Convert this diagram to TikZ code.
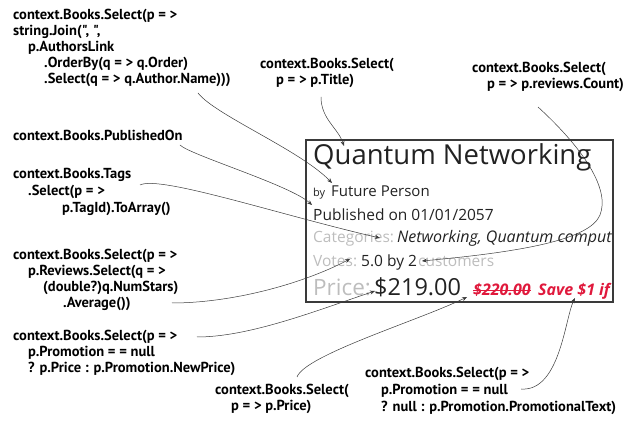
\documentclass[tikz,border=0pt]{standalone}
\usepackage{fontspec}
\usetikzlibrary{arrows.meta}
\setmainfont{Open Sans}
\newfontfamily\codefont{PT Sans}
\setlength{\lineskiplimit}{-20pt}
\definecolor{ink}{HTML}{222222}
\definecolor{dimgrey}{HTML}{BDBDBD}
\definecolor{salered}{HTML}{E0193C}
\definecolor{wire}{HTML}{3A3A3A}

\begin{document}
\begin{tikzpicture}[x=1pt, y=-1pt, >={Stealth[length=5pt, width=4pt]},
  anno/.style={anchor=base west, inner sep=0pt, align=left, font=\codefont\bfseries\fontsize{14.5}{16}\selectfont},
  anno wide/.style={anno, font=\codefont\bfseries\fontsize{14.5}{17}\selectfont},
  txt/.style={anchor=base west, inner sep=0pt, text=ink, font=\fontsize{15.5}{18}\selectfont},
  dim/.style={txt, text=dimgrey},
  sale/.style={txt, text=salered, font=\bfseries\itshape\fontsize{16}{18}\selectfont},
  link/.style={->, draw=wire, line width=0.5pt}]
\useasboundingbox (0,0) rectangle (643,430);
% the rendered book card
\begin{scope}
\clip (306,140) rectangle (613,302);
\node[txt, font=\fontsize{27.5}{30}\selectfont] (title) at (313,165) {Quantum Networking};
\node[txt, font=\fontsize{11}{13}\selectfont] (by) at (313,197) {by};
\node[txt, font=\fontsize{15}{18}\selectfont] (name) at (331,197) {Future Person};
\node[txt] (pub) at (313,221) {Published on 01/01/2057};
\node[dim] (catlbl) at (313,243) {Categories:};
\node[txt, font=\itshape\fontsize{16}{18}\selectfont] (cats) at (397,243) {Networking, Quantum computing};
\node[dim] (votelbl) at (313,267) {Votes:};
\node[txt] (votes) at (361,267) {5.0 by 2};
\node[dim] (cust) at (418,267) {customers};
\node[dim, font=\fontsize{22.5}{26}\selectfont] (pricelbl) at (313,296) {Price:};
\node[txt, font=\fontsize{23.5}{26}\selectfont] (price) at (374,296) {\$219.00};
\node[sale] (oldprice) at (473,296) {\$220.00};
\node[sale] (save) at (538,296) {Save \$1 if};
\draw[salered, line width=1.8pt] ([shift={(0,-5.5)}]oldprice.base west) -- ([shift={(0,-5.5)}]oldprice.base east);
\end{scope}
\draw[draw=wire, line width=1.2pt] (306,140) rectangle (613,302);
% the LINQ snippets
\node[anno] (authors) at (13,84) {context.Books.Select(p = >\\string.Join(", ",\\\hspace*{15pt}p.AuthorsLink\\\hspace*{31pt}.OrderBy(q = > q.Order)\\\hspace*{31pt}.Select(q = > q.Author.Name)))};
\node[anno] (titlesel) at (260,85) {context.Books.Select(\\\hspace*{16pt}p = > p.Title)};
\node[anno] (revcount) at (472,89) {context.Books.Select(\\\hspace*{15pt}p = > p.reviews.Count)};
\node[anno] (pubon) at (13,141) {context.Books.PublishedOn};
\node[anno wide] (tags) at (13,213) {context.Books.Tags\\\hspace*{15pt}.Select(p = >\\\hspace*{49pt}p.TagId).ToArray()};
\node[anno] (avg) at (13,308) {context.Books.Select(p = >\\\hspace*{15pt}p.Reviews.Select(q = >\\\hspace*{30pt}(double?)q.NumStars)\\\hspace*{50pt}.Average())};
\node[anno] (newprice) at (13,373) {context.Books.Select(p = >\\\hspace*{15pt}p.Promotion = = null\\\hspace*{15pt}? p.Price : p.Promotion.NewPrice)};
\node[anno] (pricesel) at (215,410) {context.Books.Select(\\\hspace*{16pt}p = > p.Price)};
\node[anno wide] (promo) at (365,411) {context.Books.Select(p = >\\\hspace*{16pt}p.Promotion = = null\\\hspace*{16pt}? null : p.Promotion.PromotionalText)};
% snippet -> card
\draw[link] ([shift={(185,9)}]authors.base west) .. controls +(17,22) and +(-32,-33) .. ([shift={(1,-14)}]name.base west);
\draw[link] ([shift={(61,12)}]titlesel.base west) .. controls +(0,22) and +(-6,-18) .. ([shift={(31,-19)}]title.base west);
\draw[link] ([shift={(66,18)}]revcount.base west) .. controls +(47,43) and +(10,-25) .. (600,215)
  .. controls +(-10,25) and +(98,-9) .. ([shift={(61,-6)}]votes.base west);
\draw[link] ([shift={(167,4)}]pubon.base west) .. controls +(10,10) and +(-22,-20) .. ([shift={(-1,-16)}]pub.base west);
\draw[link] ([shift={(127,-28)}]tags.base west) .. controls +(20,-10) and +(-100,-23) .. ([shift={(67,-5)}]catlbl.base west);
\draw[link] ([shift={(159,-5)}]avg.base west) .. controls +(58,0) and +(-50,26) .. ([shift={(37,-8)}]votelbl.base west);
\draw[link] ([shift={(184,-36)}]newprice.base west) .. controls +(53,0) and +(-57,19) .. ([shift={(1,-5)}]price.base west);
\draw[link] ([shift={(82,-33)}]pricesel.base west) .. controls +(8,-22) and +(-47,23) .. ([shift={(93,1)}]price.base west);
\draw[link] ([shift={(156,-22)}]promo.base west) .. controls +(39,3) and +(-10,20) .. ([shift={(37,2)}]save.base west);
\end{tikzpicture}
\end{document}
